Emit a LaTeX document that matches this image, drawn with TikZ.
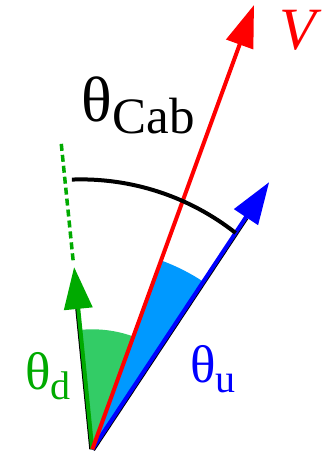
\documentclass[tikz,border=0pt]{standalone}
\usepackage{fontspec}
\setmainfont{Liberation Serif}
\usepackage{xcolor}
\usepackage{tikz}
\usetikzlibrary{arrows.meta}
\definecolor{VecRed}{RGB}{255, 0, 0}
\definecolor{UpBlue}{RGB}{0, 0, 255}
\definecolor{WedgeBlue}{RGB}{0, 153, 255}
\definecolor{DownGreen}{RGB}{0, 170, 0}
\definecolor{WedgeGreen}{RGB}{51, 204, 102}

\begin{document}
\begin{tikzpicture}[x=1pt, y=1pt,
    vec/.style={line width=4pt, -{Triangle[length=42pt, width=28pt]}},
    lbl/.style={inner sep=0pt, anchor=base west}]
        \useasboundingbox (-92.3,-2.7) rectangle (230.7,449.3);
        % origin, tips and arc centre
        \coordinate (O) at (0,0);
        \coordinate (Vtip) at (70:472.8);
        \coordinate (Utip) at (56.5:320.4);
        \coordinate (Dtip) at (95.7:183.2);
        \coordinate (Dbase) at (95.7:141);
        \coordinate (Ubase) at (56.5:278);
        \coordinate (DashA) at (95.8:190);
        \coordinate (DashB) at (95.8:309);
        \coordinate (C) at (-11.3,19.9);
        % wedges
        \fill[WedgeGreen] (O) -- (95.7:120) arc[start angle=95.7, end angle=70, radius=120] -- cycle;
        \fill[WedgeBlue] (O) -- (70:201) arc[start angle=70, end angle=56.5, radius=201] -- cycle;
        % dark edges under the vectors
        \draw[line width=4pt] ([xshift=-1pt]O) -- ([xshift=-1pt]Dbase);
        \draw[line width=4pt] ([shift={(0.8pt,-0.5pt)}]O) -- ([shift={(0.8pt,-0.5pt)}]Ubase);
        % vectors
        \draw[DownGreen, line width=3.5pt, dash pattern=on 7pt off 4pt] (DashA) -- (DashB);
        \draw[vec, DownGreen] (O) -- (Dtip);
        \draw[vec, UpBlue] (O) -- (Utip);
        \draw[vec, VecRed] (O) -- (Vtip);
        % cab angle
        \draw[line width=4pt] ([shift={(92.1:250)}]C) arc[start angle=92.1, end angle=51.8, radius=250];
        % labels
        \node[lbl] (thCab) at (-10.6,327.8) {{\fontsize{64}{64}\selectfont θ}\raisebox{-12pt}{\fontsize{51}{51}\selectfont Cab}};
        \node[lbl, text=DownGreen] (thD) at (-67.3,59.3) {{\fontsize{53}{53}\selectfont θ}\raisebox{-10pt}{\fontsize{40}{40}\selectfont d}};
        \node[lbl, text=UpBlue] (thU) at (97.7,66.3) {{\fontsize{53}{53}\selectfont θ}\raisebox{-10pt}{\fontsize{40}{40}\selectfont u}};
        \node[lbl, text=VecRed] (lblV) at (187,399.3) {\fontsize{60}{60}\selectfont\itshape V};
      \end{tikzpicture}
\end{document}
